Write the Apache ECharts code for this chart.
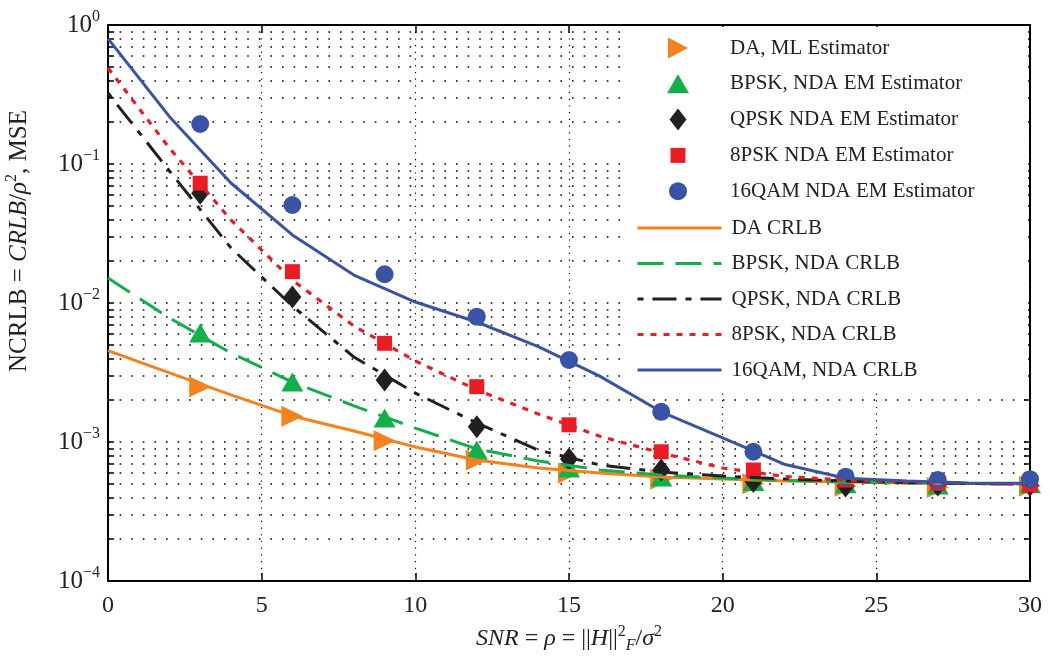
<!DOCTYPE html>
<html><head><meta charset="utf-8">
<script src="https://cdn.jsdelivr.net/npm/echarts@6/dist/echarts.min.js"></script>
<style>html,body{margin:0;padding:0;background:#fff}#c{width:1050px;height:662px}</style>
</head><body><div id="c"></div>
<script>
// ---- data ----
const snrLine   = [0, 2, 4, 6, 8, 10, 12, 14, 16, 18, 20, 22, 24, 26, 28, 30];
const snrMarker = [3, 6, 9, 12, 15, 18, 21, 24, 27, 30];

const daCrlb    = [0.00455, 0.00314, 0.00218, 0.00154, 0.00120, 0.00092, 0.000743, 0.000650, 0.000598, 0.000560, 0.000542, 0.000525, 0.000516, 0.000508, 0.000503, 0.000499];
const bpskCrlb  = [0.01514, 0.00780, 0.00437, 0.00270, 0.00182, 0.00126, 0.000891, 0.000730, 0.000629, 0.000579, 0.000550, 0.000530, 0.000516, 0.000508, 0.000503, 0.000499];
const qpskCrlb  = [0.324, 0.0891, 0.0249, 0.00951, 0.00409, 0.00225, 0.00137, 0.000875, 0.000684, 0.000608, 0.000569, 0.000542, 0.000525, 0.000511, 0.000503, 0.000499];
const psk8Crlb  = [0.491, 0.130, 0.0396, 0.0146, 0.00684, 0.00383, 0.00237, 0.00159, 0.00110, 0.000834, 0.000650, 0.000565, 0.000533, 0.000515, 0.000503, 0.000499];
const qam16Crlb = [0.798, 0.219, 0.0730, 0.0309, 0.0159, 0.01016, 0.00730, 0.00485, 0.00298, 0.00165, 0.00107, 0.000692, 0.000548, 0.000524, 0.000507, 0.000504];

const daMl      = [0.00250, 0.00153, 0.00102, 0.000743, 0.000598, 0.000540, 0.000500, 0.000480, 0.000470, 0.000480];
const bpskEm    = [0.00608, 0.00270, 0.00149, 0.000875, 0.000650, 0.000560, 0.000520, 0.000500, 0.000490, 0.000500];
const qpskEm    = [0.0615, 0.01104, 0.00279, 0.00129, 0.000755, 0.000629, 0.000520, 0.000483, 0.000490, 0.000490];
const psk8Em    = [0.0727, 0.0168, 0.00513, 0.00250, 0.00133, 0.000851, 0.000629, 0.000533, 0.000504, 0.000491];
const qam16Em   = [0.194, 0.0507, 0.0161, 0.00797, 0.00389, 0.00165, 0.000851, 0.000563, 0.000533, 0.000540];

const yTickValues = [0.0001, 0.0002, 0.0003, 0.0004, 0.0005, 0.0006, 0.0007, 0.0008, 0.0009,
                     0.001, 0.002, 0.003, 0.004, 0.005, 0.006, 0.007, 0.008, 0.009,
                     0.01, 0.02, 0.03, 0.04, 0.05, 0.06, 0.07, 0.08, 0.09,
                     0.1, 0.2, 0.3, 0.4, 0.5, 0.6, 0.7, 0.8, 0.9, 1];
const yLabelValues = [0.0001, 0.001, 0.01, 0.1, 1];

const names = {
  daMl: 'DA, ML Estimator', bpskEm: 'BPSK, NDA EM Estimator', qpskEm: 'QPSK NDA EM Estimator',
  psk8Em: '8PSK NDA EM Estimator', qam16Em: '16QAM NDA EM Estimator',
  daCrlb: 'DA CRLB', bpskCrlb: 'BPSK, NDA CRLB', qpskCrlb: 'QPSK, NDA CRLB',
  psk8Crlb: '8PSK, NDA CRLB', qam16Crlb: '16QAM, NDA CRLB'
};

// ---- style ----
const FONT = "'Liberation Serif', 'DejaVu Serif', serif";
const C = { orange: '#F5821F', green: '#12AF4B', black: '#231F20', red: '#EC1C24', blue: '#3A53A4' };

// legend icons (padded to a 22x22 box so that shapes keep their size)
const ICON = {
  right:   'path://M0,0M22,22M1,0.5L21,11L1,21.5Z',
  up:      'path://M0,0M22,22M0,20.5L11,1.5L22,20.5Z',
  diamond: 'path://M0,0M22,22M11,0L19.5,11L11,22L2.5,11Z',
  square:  'path://M0,0M22,22M3.5,3.5L18.5,3.5L18.5,18.5L3.5,18.5Z',
  circle:  'path://M0,0M22,22M2,11A9,9,0,1,1,20,11A9,9,0,1,1,2,11Z'
};

const zip = (xs, ys) => xs.map((x, i) => [x, ys[i]]);

function lineSeries(name, data, color, type, width) {
  return {
    name, type: 'line', data: zip(snrLine, data), xAxisIndex: 0, yAxisIndex: 0,
    symbol: 'none', showSymbol: false, smooth: false, z: 3,
    lineStyle: { color, width: width || 3, type, cap: 'butt' },
    itemStyle: { color }, emphasis: { disabled: true }, animation: false
  };
}
function markerSeries(name, data, color, symbol, size, rotate) {
  return {
    name, type: 'scatter', data: zip(snrMarker, data), xAxisIndex: 0, yAxisIndex: 0,
    symbol, symbolSize: size, symbolRotate: rotate || 0, z: 2,
    itemStyle: { color, opacity: 1 }, emphasis: { disabled: true }, animation: false
  };
}

const gridDots = { show: true, lineStyle: { color: '#000', width: 1.6, type: [1.6, 10] } };

const supLabel = v => {
  const e = Math.round(Math.log10(v));
  return '{b|10}{s|' + (e < 0 ? '\u2212' + (-e) : e) + '}';
};

const legendText = { fontFamily: FONT, fontSize: 21, color: '#222' };

const option = {
  backgroundColor: '#fff',
  animation: false,
  grid: { left: 108, right: 20, top: 25, bottom: 81, show: false, containLabel: false, outerBoundsMode: 'none' },
  graphic: [{
    type: 'rect', z: 5, silent: true,
    shape: { x: 627, y: 27, width: 401, height: 361 },
    style: { fill: '#fff' }
  }],
  legend: [
    {
      orient: 'vertical', left: 667, top: 37, padding: 0, z: 10,
      itemWidth: 22, itemHeight: 22, itemGap: 13.8, symbolKeepAspect: true,
      textStyle: Object.assign({ padding: [0, 0, 0, 36] }, legendText),
      selectedMode: false,
      data: [
        { name: names.daMl, icon: ICON.right },
        { name: names.bpskEm, icon: ICON.up },
        { name: names.qpskEm, icon: ICON.diamond },
        { name: names.psk8Em, icon: ICON.square },
        { name: names.qam16Em, icon: ICON.circle }
      ]
    },
    {
      orient: 'vertical', left: 636, top: 217.5, padding: 0, z: 10,
      itemWidth: 84, itemHeight: 21, itemGap: 14.5,
      lineStyle: { width: 3 },
      textStyle: Object.assign({ padding: [0, 0, 0, 5] }, legendText),
      selectedMode: false,
      data: [names.daCrlb, names.bpskCrlb, names.qpskCrlb, names.psk8Crlb, names.qam16Crlb]
        .map(n => ({ name: n, itemStyle: { opacity: 0 } }))
    }
  ],
  xAxis: [
    {
      type: 'value', position: 'bottom', min: 0, max: 30, interval: 5,
      axisLine: { show: true, onZero: false, lineStyle: { color: '#000', width: 2 } },
      axisTick: { show: true, inside: true, length: 8, lineStyle: { color: '#000', width: 1.5 } },
      axisLabel: { show: true, margin: 13, fontFamily: FONT, fontSize: 24, color: '#222' },
      splitLine: { show: true, lineStyle: { color: '#000', width: 1.2, type: [1.2, 5.5] } },
      name: '{i|SNR} = {i|\u03C1} = ||{i|H}||{s|2}{u|F}/{i|\u03C3}{s|2}',
      nameLocation: 'middle', nameGap: 43,
      nameTextStyle: {
        fontFamily: FONT, fontSize: 24, color: '#222',
        rich: {
          i: { fontFamily: FONT, fontSize: 24, fontStyle: 'italic', color: '#222' },
          s: { fontFamily: FONT, fontSize: 16, color: '#222', padding: [0, 0, 14, 0] },
          u: { fontFamily: FONT, fontSize: 16, fontStyle: 'italic', color: '#222', padding: [14, 0, 0, 0] }
        }
      }
    },
    {
      type: 'value', position: 'top', min: 0, max: 30, interval: 5,
      axisLine: { show: true, onZero: false, lineStyle: { color: '#000', width: 2 } },
      axisTick: { show: true, inside: true, length: 8, lineStyle: { color: '#000', width: 1.5 } },
      axisLabel: { show: false }, splitLine: { show: false }
    }
  ],
  yAxis: [
    {
      type: 'log', logBase: 10, position: 'left', min: 0.0001, max: 1,
      axisLine: { show: true, onZero: false, lineStyle: { color: '#000', width: 2 } },
      axisTick: { show: true, inside: true, length: 6, customValues: yTickValues, lineStyle: { color: '#000', width: 1.5 } },
      axisLabel: {
        show: true, margin: 8, customValues: yLabelValues, formatter: supLabel,
        rich: {
          b: { fontFamily: FONT, fontSize: 25, color: '#222' },
          s: { fontFamily: FONT, fontSize: 16, color: '#222', padding: [0, 0, 16, 0] }
        }
      },
      splitLine: gridDots,
      name: 'NCRLB = {i|CRLB}/{i|\u03C1}{s|2}, MSE',
      nameLocation: 'middle', nameGap: 74, nameRotate: 90,
      nameTextStyle: {
        fontFamily: FONT, fontSize: 25, color: '#222', padding: [0, 0, 0, 124],
        rich: {
          i: { fontFamily: FONT, fontSize: 25, fontStyle: 'italic', color: '#222' },
          s: { fontFamily: FONT, fontSize: 16, color: '#222', padding: [0, 0, 14, 0] }
        }
      }
    },
    {
      type: 'log', logBase: 10, position: 'right', min: 0.0001, max: 1,
      axisLine: { show: true, onZero: false, lineStyle: { color: '#000', width: 2 } },
      axisTick: { show: true, inside: true, length: 6, customValues: yTickValues, lineStyle: { color: '#000', width: 1.5 } },
      axisLabel: { show: false }, splitLine: { show: false }
    }
  ],
  series: [
    markerSeries(names.daMl, daMl, C.orange, 'triangle', [21, 22], -90),
    markerSeries(names.bpskEm, bpskEm, C.green, 'triangle', [22, 19]),
    markerSeries(names.qpskEm, qpskEm, C.black, 'diamond', [18, 23]),
    markerSeries(names.psk8Em, psk8Em, C.red, 'rect', [15, 15]),
    markerSeries(names.qam16Em, qam16Em, C.blue, 'circle', 18),
    lineSeries(names.daCrlb, daCrlb, C.orange, 'solid', 3),
    lineSeries(names.bpskCrlb, bpskCrlb, C.green, [26, 12], 3),
    lineSeries(names.qpskCrlb, qpskCrlb, C.black, [6, 9, 24, 9], 3),
    lineSeries(names.psk8Crlb, psk8Crlb, C.red, [6, 7], 3.2),
    lineSeries(names.qam16Crlb, qam16Crlb, C.blue, 'solid', 3)
  ]
};

const chart = echarts.init(document.getElementById('c'), null, { renderer: 'canvas' });
chart.setOption(option);
</script>
</body></html>
